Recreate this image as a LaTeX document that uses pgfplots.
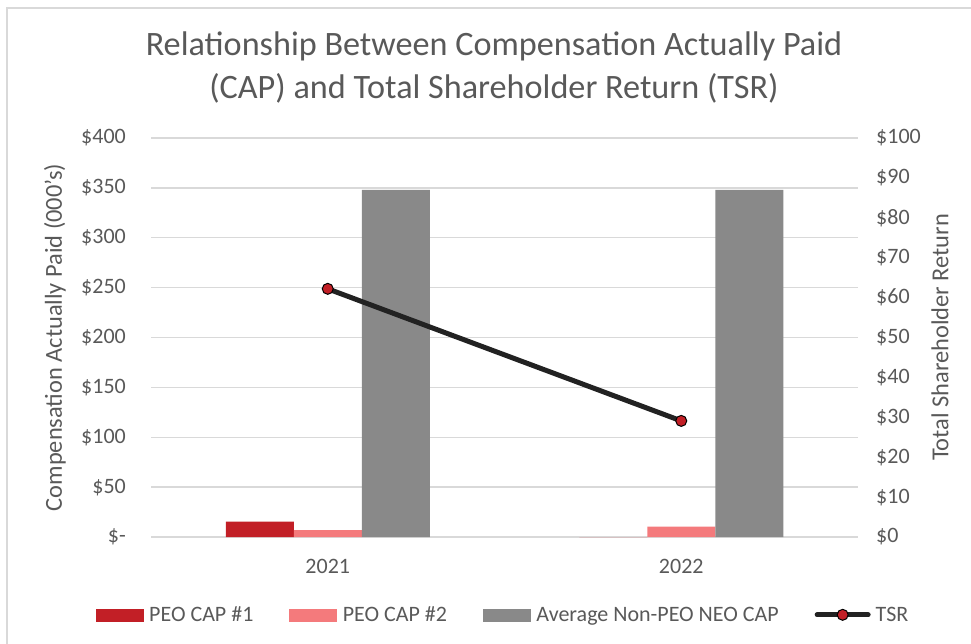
\documentclass[border=0pt]{standalone}
\usepackage{fontspec}
\setmainfont{Carlito}
\usepackage{pgfplots}
\pgfplotsset{compat=1.18}
\definecolor{txt}{HTML}{595959}
\definecolor{grd}{HTML}{D9D9D9}
\definecolor{peoA}{HTML}{C21F26}
\definecolor{peoB}{HTML}{F47A7C}
\definecolor{nneo}{HTML}{898989}
\definecolor{tsr}{HTML}{222222}
\begin{document}
\begin{tikzpicture}[x=1pt,y=1pt]
\useasboundingbox (0,0) rectangle (971,643);
\draw[grd, line width=1.5pt] (7,-20) -- (7,635) -- (1000,635);
\node[align=center, text=txt, font=\fontsize{34.2}{43}\selectfont] at (494,575.5)
  {Relationship Between Compensation Actually Paid\\(CAP) and Total Shareholder Return (TSR)};
\begin{axis}[
  at={(151pt,106pt)}, anchor=south west,
  scale only axis, width=707pt, height=399pt,
  xmin=-0.5, xmax=1.5, ymin=0, ymax=400,
  axis line style={draw=none},
  ytick={0,50,...,400},
  yticklabels={\$-,\$50,\$100,\$150,\$200,\$250,\$300,\$350,\$400},
  xtick={0,1}, xticklabels={2021,2022},
  ymajorgrids, grid style={grd, line width=1.3pt},
  major tick length=0pt,
  tick label style={font=\fontsize{22}{26}\selectfont, text=txt, inner sep=0pt},
  yticklabel style={anchor=east, xshift=-25pt},
  xticklabel style={anchor=north, yshift=-22pt},
  ylabel={Compensation Actually Paid (000's)},
  ylabel style={at={(axis description cs:-0.1358,0.5)}, anchor=center, font=\fontsize{24.4}{28}\selectfont, text=txt},
  ybar, bar width=68pt,
]
\addplot[fill=peoA, draw=none, bar shift=-68pt] coordinates {(0,15.5) (1,0)};
\addplot[fill=peoB, draw=none, bar shift=0pt] coordinates {(0,7) (1,10.5)};
\addplot[fill=nneo, draw=none, bar shift=68pt] coordinates {(0,348) (1,348)};
\end{axis}
\begin{axis}[
  at={(151pt,106pt)}, anchor=south west,
  scale only axis, width=707pt, height=399pt,
  xmin=-0.5, xmax=1.5, ymin=0, ymax=100,
  axis line style={draw=none},
  axis y line*=right, axis x line=none,
  ytick={0,10,...,100},
  yticklabels={\$0,\$10,\$20,\$30,\$40,\$50,\$60,\$70,\$80,\$90,\$100},
  major tick length=0pt,
  tick label style={font=\fontsize{22}{26}\selectfont, text=txt, inner sep=0pt},
  yticklabel style={anchor=west, xshift=18pt},
  ylabel={Total Shareholder Return},
  ylabel style={at={(axis description cs:1.116,0.5)}, anchor=center, rotate=0, font=\fontsize{24.4}{28}\selectfont, text=txt},
  legend style={at={(axis description cs:0.498,-0.195)}, anchor=center, draw=none, fill=none,
    font=\fontsize{22}{26}\selectfont, text=txt, inner sep=0pt,
    /tikz/every even column/.append style={column sep=34pt}},
  legend columns=4,
  legend cell align=left,
]
\addlegendimage{legend image code/.code={\fill[peoA] (0pt,-6pt) rectangle (47pt,6pt); \path (51pt,0pt);}}
\addlegendentry{PEO CAP \#1}
\addlegendimage{legend image code/.code={\fill[peoB] (0pt,-6pt) rectangle (47pt,6pt); \path (51pt,0pt);}}
\addlegendentry{PEO CAP \#2}
\addlegendimage{legend image code/.code={\fill[nneo] (0pt,-6pt) rectangle (47pt,6pt); \path (51pt,0pt);}}
\addlegendentry{Average Non-PEO NEO CAP}
\addplot[tsr, line width=5pt, mark=*, mark size=5.5pt, mark options={fill=peoA, draw=black, line width=1pt},
  legend image code/.code={\draw[tsr, line width=5pt, line cap=round] (0pt,0pt) -- (51pt,0pt);
  \fill[peoA, draw=black, line width=1pt] (25.5pt,0pt) circle (5.5pt); \path (54pt,0pt);}]
  coordinates {(0,62.2) (1,29.1)};
\addlegendentry{TSR}
\end{axis}
\end{tikzpicture}
\end{document}
